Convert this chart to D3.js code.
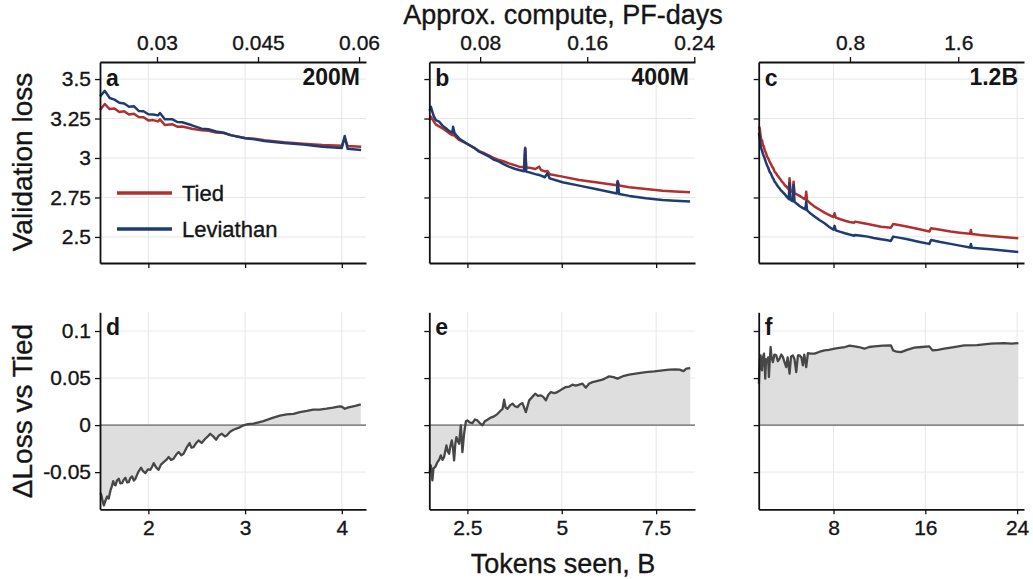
<!DOCTYPE html>
<html><head><meta charset="utf-8">
<script src="https://cdn.jsdelivr.net/npm/d3@7"></script>
<style>
body{margin:0;background:#fff;}
svg{display:block;font-family:"Liberation Sans",Arial,Helvetica,sans-serif;}
</style></head>
<body><svg id="chart" width="1033" height="579"></svg>
<script>
// ---------------- DATA ----------------
const panelLetters = ["a","b","c","d","e","f"];
const modelSizes = ["200M","400M","1.2B"];
const seriesNames = ["Tied","Leviathan"];

const tokenTicksA = [2,3,4];
const tokenTicksB = [2.5,5,7.5];
const tokenTicksC = [8,16,24];
const computeTicksA = [0.03,0.045,0.06];
const computeTicksB = [0.08,0.16,0.24];
const computeTicksC = [0.8,1.6];
const lossTicks = [2.5,2.75,3,3.25,3.5];
const deltaTicks = [-0.05,0,0.05,0.1];
// PF-days per billion tokens for each model size
const computePerBTokens = [0.01436,0.0282,0.0848];

// Panel a (200M): [tokens B, validation loss]
const tiedA = [[1.5,3.304],[1.55,3.342],[1.6,3.31],[1.65,3.314],[1.7,3.292],[1.75,3.296],[1.8,3.275],[1.85,3.28],[1.9,3.26],[1.95,3.258],[2.0,3.238],[2.05,3.24],[2.1,3.232],[2.12,3.245],[2.17,3.209],[2.25,3.213],[2.3,3.198],[2.35,3.2],[2.45,3.185],[2.55,3.175],[2.62,3.172],[2.7,3.162],[2.78,3.158],[2.85,3.145],[3.0,3.127],[3.1,3.122],[3.2,3.112],[3.4,3.1],[3.6,3.091],[3.8,3.083],[4.0,3.078],[4.03,3.125],[4.06,3.076],[4.2,3.072]];
const levA = [[1.5,3.39],[1.55,3.425],[1.6,3.38],[1.65,3.37],[1.7,3.35],[1.75,3.345],[1.8,3.325],[1.85,3.328],[1.9,3.298],[1.95,3.296],[2.0,3.277],[2.05,3.275],[2.1,3.27],[2.12,3.285],[2.17,3.245],[2.25,3.245],[2.3,3.228],[2.35,3.226],[2.45,3.207],[2.55,3.186],[2.62,3.182],[2.7,3.168],[2.78,3.16],[2.85,3.145],[3.0,3.125],[3.1,3.118],[3.2,3.107],[3.4,3.095],[3.6,3.085],[3.8,3.072],[4.0,3.064],[4.03,3.139],[4.06,3.058],[4.2,3.051]];

// Panel b (400M)
const tiedB = [[1.5,3.24],[1.53,3.262],[1.6,3.235],[1.66,3.213],[1.75,3.2],[1.84,3.188],[1.93,3.172],[2.02,3.156],[2.1,3.145],[2.12,3.15],[2.16,3.14],[2.28,3.114],[2.4,3.1],[2.55,3.082],[2.7,3.062],[2.81,3.044],[2.95,3.03],[3.08,3.015],[3.2,3.0],[3.34,2.987],[3.47,2.978],[3.6,2.966],[3.75,2.955],[3.87,2.945],[4.0,2.941],[4.03,3.065],[4.06,2.94],[4.14,2.939],[4.3,2.93],[4.4,2.945],[4.45,2.924],[4.55,2.915],[4.62,2.918],[4.68,2.897],[5.02,2.882],[5.46,2.861],[5.9,2.846],[6.46,2.828],[6.48,2.854],[6.52,2.826],[6.79,2.815],[7.23,2.804],[7.67,2.793],[8.0,2.788],[8.4,2.783]];
const levB = [[1.5,3.3],[1.53,3.325],[1.6,3.27],[1.66,3.24],[1.75,3.23],[1.84,3.205],[1.93,3.188],[2.02,3.17],[2.1,3.16],[2.12,3.198],[2.16,3.156],[2.28,3.124],[2.4,3.105],[2.55,3.082],[2.7,3.06],[2.81,3.04],[2.95,3.025],[3.08,3.008],[3.2,2.99],[3.34,2.977],[3.47,2.96],[3.6,2.945],[3.75,2.932],[3.87,2.924],[4.0,2.916],[4.03,3.06],[4.06,2.914],[4.14,2.909],[4.3,2.898],[4.4,2.892],[4.45,2.888],[4.55,2.878],[4.62,2.903],[4.68,2.871],[5.02,2.846],[5.46,2.825],[5.9,2.804],[6.46,2.775],[6.48,2.85],[6.52,2.772],[6.79,2.76],[7.23,2.745],[7.67,2.734],[8.0,2.729],[8.4,2.724]];

// Panel c (1.2B)
const tiedC = [[1.5,3.2],[1.57,3.188],[1.63,3.15],[1.7,3.114],[1.78,3.11],[1.85,3.08],[1.92,3.075],[2.0,3.051],[2.1,3.035],[2.2,3.01],[2.3,3.0],[2.43,2.977],[2.55,2.962],[2.65,2.945],[2.75,2.935],[2.87,2.913],[3.0,2.903],[3.1,2.89],[3.2,2.882],[3.3,2.871],[3.4,2.862],[3.5,2.85],[3.62,2.842],[3.74,2.829],[3.9,2.818],[4.1,2.8],[4.17,2.871],[4.25,2.795],[4.35,2.79],[4.45,2.782],[4.52,2.85],[4.6,2.778],[4.8,2.77],[5.04,2.76],[5.3,2.748],[5.55,2.738],[5.62,2.787],[5.7,2.732],[6.0,2.712],[6.35,2.692],[6.8,2.672],[7.22,2.654],[7.6,2.64],[8.0,2.626],[8.09,2.65],[8.2,2.622],[8.6,2.612],[9.0,2.603],[9.4,2.595],[9.8,2.59],[9.88,2.597],[10.4,2.59],[10.98,2.582],[11.5,2.574],[12.14,2.565],[12.6,2.562],[13.0,2.559],[13.2,2.582],[13.8,2.574],[14.46,2.565],[15.4,2.55],[16.35,2.534],[16.5,2.555],[17.3,2.545],[18.2,2.534],[19.0,2.527],[19.9,2.52],[19.97,2.544],[20.05,2.519],[20.8,2.512],[21.7,2.506],[23.0,2.498],[24.1,2.492]];
const levC = [[1.5,3.16],[1.57,3.135],[1.63,3.09],[1.7,3.061],[1.78,3.045],[1.85,3.025],[1.92,3.012],[2.0,2.998],[2.1,2.975],[2.2,2.955],[2.3,2.94],[2.43,2.913],[2.55,2.9],[2.65,2.882],[2.75,2.87],[2.87,2.85],[3.0,2.838],[3.1,2.825],[3.2,2.816],[3.3,2.808],[3.4,2.796],[3.5,2.79],[3.62,2.78],[3.74,2.772],[3.9,2.757],[4.1,2.74],[4.17,2.84],[4.25,2.736],[4.35,2.73],[4.45,2.726],[4.52,2.829],[4.6,2.722],[4.8,2.71],[5.04,2.696],[5.3,2.684],[5.55,2.674],[5.62,2.724],[5.7,2.668],[6.0,2.648],[6.35,2.629],[6.8,2.606],[7.22,2.587],[7.6,2.565],[8.0,2.546],[8.09,2.57],[8.2,2.542],[8.6,2.532],[9.0,2.523],[9.4,2.515],[9.8,2.508],[9.88,2.513],[10.4,2.508],[10.98,2.502],[11.5,2.493],[12.14,2.485],[12.6,2.48],[13.0,2.475],[13.2,2.502],[13.8,2.494],[14.46,2.485],[15.4,2.47],[16.35,2.456],[16.5,2.481],[17.3,2.468],[18.2,2.456],[19.0,2.445],[19.9,2.433],[19.97,2.456],[20.05,2.432],[20.8,2.427],[21.7,2.422],[23.0,2.412],[24.1,2.405]];

// Delta panels (Tied minus Leviathan): [tokens B, delta loss]
const deltaD = [[1.505,-0.072],[1.515,-0.0748],[1.53,-0.082],[1.54,-0.0854],[1.557,-0.0801],[1.574,-0.0759],[1.59,-0.078],[1.608,-0.0695],[1.62,-0.066],[1.636,-0.0596],[1.648,-0.063],[1.66,-0.0641],[1.675,-0.059],[1.694,-0.057],[1.71,-0.062],[1.729,-0.0617],[1.745,-0.058],[1.763,-0.056],[1.78,-0.061],[1.797,-0.0606],[1.815,-0.056],[1.832,-0.0546],[1.85,-0.059],[1.866,-0.057],[1.895,-0.05],[1.925,-0.0453],[1.945,-0.049],[1.969,-0.051],[1.995,-0.047],[2.021,-0.0475],[2.04,-0.044],[2.055,-0.0404],[2.08,-0.045],[2.106,-0.0475],[2.13,-0.042],[2.158,-0.0393],[2.185,-0.037],[2.21,-0.034],[2.235,-0.037],[2.261,-0.0357],[2.29,-0.031],[2.313,-0.0287],[2.34,-0.032],[2.364,-0.0304],[2.395,-0.024],[2.426,-0.0191],[2.445,-0.024],[2.467,-0.0234],[2.495,-0.019],[2.519,-0.0163],[2.55,-0.019],[2.588,-0.0145],[2.615,-0.012],[2.639,-0.0092],[2.67,-0.012],[2.701,-0.0155],[2.73,-0.011],[2.76,-0.0092],[2.79,-0.012],[2.811,-0.011],[2.845,-0.007],[2.88,-0.0049],[2.93,-0.003],[2.982,-0.0003],[3.03,0.001],[3.086,0.0015],[3.14,0.003],[3.189,0.0043],[3.24,0.006],[3.292,0.0079],[3.36,0.010],[3.43,0.0114],[3.5,0.012],[3.567,0.0138],[3.64,0.015],[3.704,0.0164],[3.77,0.0165],[3.842,0.0174],[3.91,0.0185],[3.979,0.0199],[4.0,0.0195],[4.031,0.0174],[4.06,0.0185],[4.082,0.0191],[4.14,0.0205],[4.196,0.022]];
const deltaE = [[1.5,-0.05],[1.53,-0.0429],[1.572,-0.0588],[1.6,-0.046],[1.644,-0.0447],[1.705,-0.0394],[1.75,-0.037],[1.795,-0.0322],[1.84,-0.037],[1.882,-0.034],[1.943,-0.0216],[1.98,-0.028],[2.015,-0.0305],[2.05,-0.022],[2.086,-0.0163],[2.12,-0.025],[2.147,-0.0376],[2.18,-0.02],[2.208,-0.0128],[2.245,-0.017],[2.28,-0.0198],[2.325,-0.0003],[2.367,-0.0287],[2.412,-0.0092],[2.46,0.004],[2.5,0.005],[2.56,0.003],[2.633,0.0021],[2.7,0.006],[2.765,0.005],[2.83,0.002],[2.898,-0.0003],[2.96,0.004],[3.03,0.0057],[3.12,0.008],[3.208,0.0093],[3.3,0.012],[3.385,0.0156],[3.43,0.017],[3.473,0.027],[3.51,0.019],[3.561,0.0174],[3.63,0.021],[3.693,0.0228],[3.76,0.02],[3.826,0.0191],[3.89,0.022],[3.958,0.0234],[4.048,0.0138],[4.136,0.0263],[4.22,0.03],[4.295,0.0334],[4.37,0.031],[4.446,0.0316],[4.51,0.03],[4.579,0.0263],[4.64,0.032],[4.711,0.0351],[4.8,0.034],[4.886,0.0351],[5.0,0.038],[5.109,0.0404],[5.2,0.041],[5.284,0.043],[5.37,0.042],[5.461,0.043],[5.55,0.044],[5.639,0.0398],[5.72,0.044],[5.813,0.0457],[5.95,0.047],[6.079,0.0483],[6.17,0.05],[6.256,0.0518],[6.37,0.051],[6.476,0.0494],[6.62,0.052],[6.786,0.0536],[7.0,0.055],[7.23,0.0564],[7.45,0.057],[7.67,0.0582],[7.85,0.059],[8.02,0.0593],[8.12,0.059],[8.226,0.0574],[8.3,0.060],[8.404,0.0606]];
const deltaF = [[1.5,0.044],[1.58,0.07],[1.65,0.0741],[1.7,0.062],[1.77,0.0582],[1.85,0.072],[1.94,0.0759],[2.0,0.065],[2.05,0.0494],[2.12,0.07],[2.23,0.067],[2.3,0.072],[2.37,0.0511],[2.45,0.07],[2.52,0.083],[2.6,0.072],[2.72,0.067],[2.85,0.075],[3.01,0.0741],[3.15,0.068],[3.3,0.0706],[3.45,0.075],[3.59,0.0724],[3.7,0.068],[3.88,0.0617],[4.0,0.072],[4.17,0.0546],[4.3,0.073],[4.46,0.0741],[4.6,0.07],[4.75,0.0564],[4.9,0.074],[5.04,0.0741],[5.2,0.072],[5.33,0.0635],[5.45,0.075],[5.62,0.0617],[5.77,0.0766],[6.0,0.076],[6.35,0.0759],[6.8,0.078],[7.22,0.0794],[7.6,0.080],[8.09,0.0812],[8.5,0.082],[9.0,0.083],[9.4,0.0845],[9.83,0.0837],[10.2,0.083],[10.7,0.0812],[11.1,0.083],[11.57,0.0837],[12.3,0.0845],[13.0,0.0848],[13.2,0.0794],[13.5,0.078],[13.88,0.0776],[14.4,0.080],[15.04,0.0823],[15.7,0.083],[16.35,0.0837],[16.63,0.0794],[17.1,0.080],[17.65,0.0812],[18.5,0.083],[19.39,0.0848],[20.5,0.085],[21.7,0.0866],[22.87,0.0872],[23.5,0.0865],[24.11,0.0872]];

// ---------------- LAYOUT ----------------
const FONT = '"Liberation Sans",Arial,Helvetica,sans-serif';
const TXT = "#151515";
const colTied = "#b0302f", colLev = "#1f3b73", colDelta = "#474747";
const cols = [{x0:100,x1:366,dom:[1.5,4.25]},{x0:429.3,x1:695,dom:[1.49,8.53]},{x0:758.7,x1:1024,dom:[1.48,24.6]}];
const topRow = {y0:62,y1:263,dom:[2.335,3.608]};
const botRow = {y0:312.3,y1:509.3,dom:[-0.0895,0.1199]};

const topData = [
  {tied:tiedA,lev:levA,ticks:tokenTicksA,cticks:computeTicksA},
  {tied:tiedB,lev:levB,ticks:tokenTicksB,cticks:computeTicksB},
  {tied:tiedC,lev:levC,ticks:tokenTicksC,cticks:computeTicksC}];
const botData = [deltaD,deltaE,deltaF];

const svg = d3.select("#chart");
const fmt = v => String(v);

function txt(sel,size,bold){
  sel.style("font-size",size+"px").style("font-family",FONT).attr("fill",TXT)
     .attr("stroke",TXT).attr("stroke-width",bold?0:0.35).style("font-weight",bold?"bold":"normal");
  return sel;
}
function styleAxis(g, showLabels){
  g.select(".domain").attr("stroke","#111").attr("stroke-width",1.8);
  g.selectAll(".tick line").attr("stroke","#111").attr("stroke-width",1.3);
  txt(g.selectAll(".tick text"),21,false);
  if(!showLabels) g.selectAll(".tick text").remove();
}

cols.forEach((c,i)=>{
  const x = d3.scaleLinear().domain(c.dom).range([c.x0,c.x1]);
  const xc = d3.scaleLinear().domain([c.dom[0]*computePerBTokens[i], c.dom[1]*computePerBTokens[i]]).range([c.x0,c.x1]);
  // ---- top panel
  {
    const y = d3.scaleLinear().domain(topRow.dom).range([topRow.y1,topRow.y0]);
    const g = svg.append("g");
    const td = topData[i];
    g.selectAll(".vg").data(td.ticks).join("line")
      .attr("x1",d=>x(d)).attr("x2",d=>x(d)).attr("y1",topRow.y0).attr("y2",topRow.y1)
      .attr("stroke","#e6e6e6").attr("stroke-width",1);
    g.selectAll(".hg").data(lossTicks).join("line")
      .attr("x1",c.x0).attr("x2",c.x1).attr("y1",d=>y(d)).attr("y2",d=>y(d))
      .attr("stroke","#e6e6e6").attr("stroke-width",1);
    const line = d3.line().x(d=>x(d[0])).y(d=>y(d[1]));
    g.append("path").attr("d",line(td.tied)).attr("fill","none").attr("stroke",colTied).attr("stroke-width",2.5).attr("stroke-linejoin","round");
    g.append("path").attr("d",line(td.lev)).attr("fill","none").attr("stroke",colLev).attr("stroke-width",2.5).attr("stroke-linejoin","round");
    const ax = g.append("g").attr("transform",`translate(0,${topRow.y1})`)
      .call(d3.axisBottom(x).tickValues(td.ticks).tickSize(5).tickSizeOuter(0));
    styleAxis(ax,false);
    const ay = g.append("g").attr("transform",`translate(${c.x0},0)`)
      .call(d3.axisLeft(y).tickValues(lossTicks).tickFormat(fmt).tickSize(5).tickSizeOuter(0).tickPadding(4));
    styleAxis(ay,i===0);
    const at = g.append("g").attr("transform",`translate(0,${topRow.y0})`)
      .call(d3.axisTop(xc).tickValues(td.cticks).tickFormat(fmt).tickSize(5).tickSizeOuter(0).tickPadding(7));
    styleAxis(at,true);
    txt(g.append("text").attr("x",c.x0+6).attr("y",86).text(panelLetters[i]),23,true);
    txt(g.append("text").attr("x",c.x1-6).attr("y",85).attr("text-anchor","end").text(modelSizes[i]),23,true);
    if(i===0){
      const leg = [{n:seriesNames[0],c:colTied,y:193},{n:seriesNames[1],c:colLev,y:229}];
      leg.forEach(l=>{
        g.append("line").attr("x1",117).attr("x2",172).attr("y1",l.y).attr("y2",l.y).attr("stroke",l.c).attr("stroke-width",3.5);
        txt(g.append("text").attr("x",182).attr("y",l.y+8).text(l.n),22,false);
      });
    }
  }
  // ---- bottom panel
  {
    const y = d3.scaleLinear().domain(botRow.dom).range([botRow.y1,botRow.y0]);
    const g = svg.append("g");
    g.selectAll(".vg").data(topData[i].ticks).join("line")
      .attr("x1",d=>x(d)).attr("x2",d=>x(d)).attr("y1",botRow.y0).attr("y2",botRow.y1)
      .attr("stroke","#e6e6e6").attr("stroke-width",1);
    g.selectAll(".hg").data(deltaTicks.filter(d=>d!==0)).join("line")
      .attr("x1",c.x0).attr("x2",c.x1).attr("y1",d=>y(d)).attr("y2",d=>y(d))
      .attr("stroke","#ececec").attr("stroke-width",1.2);
    const bd = botData[i];
    const area = d3.area().x(d=>x(d[0])).y0(y(0)).y1(d=>y(d[1]));
    g.append("path").attr("d",area(bd)).attr("fill","#dedede");
    g.append("line").attr("x1",c.x0).attr("x2",c.x1).attr("y1",y(0)).attr("y2",y(0)).attr("stroke","#8a8a8a").attr("stroke-width",1.6);
    const line = d3.line().x(d=>x(d[0])).y(d=>y(d[1]));
    g.append("path").attr("d",line(bd)).attr("fill","none").attr("stroke",colDelta).attr("stroke-width",2.3).attr("stroke-linejoin","round");
    const ax = g.append("g").attr("transform",`translate(0,${botRow.y1})`)
      .call(d3.axisBottom(x).tickValues(topData[i].ticks).tickFormat(fmt).tickSize(5).tickSizeOuter(0).tickPadding(6));
    styleAxis(ax,true);
    const ay = g.append("g").attr("transform",`translate(${c.x0},0)`)
      .call(d3.axisLeft(y).tickValues(deltaTicks).tickFormat(fmt).tickSize(5).tickSizeOuter(0).tickPadding(4));
    styleAxis(ay,i===0);
    txt(g.append("text").attr("x",c.x0+6).attr("y",335).text(panelLetters[i+3]),23,true);
  }
});

txt(svg.append("text").attr("x",563).attr("y",24).attr("text-anchor","middle").text("Approx. compute, PF-days"),27,false);
txt(svg.append("text").attr("x",563).attr("y",573).attr("text-anchor","middle").text("Tokens seen, B"),27,false);
txt(svg.append("text").attr("transform","translate(32,162) rotate(-90)").attr("text-anchor","middle").text("Validation loss"),28,false);
txt(svg.append("text").attr("transform","translate(32,411) rotate(-90)").attr("text-anchor","middle").text("ΔLoss vs Tied"),28,false);
</script></body></html>
